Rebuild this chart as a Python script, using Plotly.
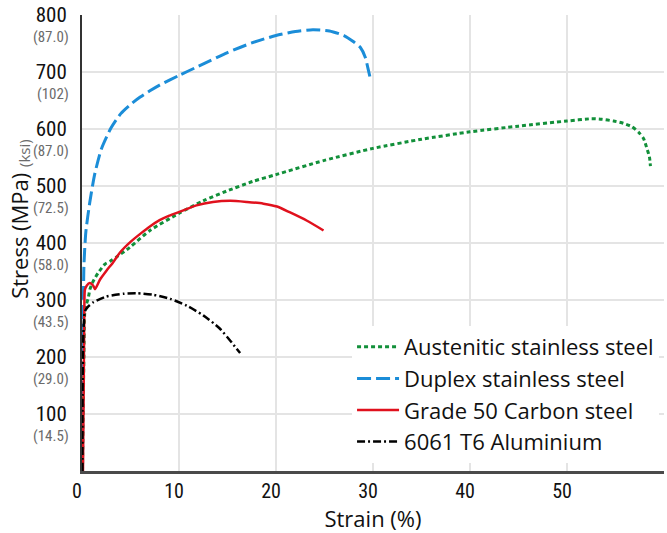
import plotly.graph_objects as go

# Stress-strain curves (strain in %, stress in MPa)
aus_strain = [0.05, 0.25, 0.3, 0.48, 0.65, 0.82, 1.16, 1.68, 2.37, 2.9, 3.6, 4.9, 7, 10.1, 12.5, 14.9,
              17.6, 20, 25, 30, 35, 40, 45, 50, 52.5, 53.6, 54.8, 55.8, 56.7, 57.4, 57.9, 58.2, 58.5, 58.6]
aus_stress = [0, 260, 282, 294, 304, 319, 333, 348, 363, 368, 376, 392, 422, 453, 474, 491,
              508, 520, 545, 566, 582, 595, 605, 614, 618, 617, 614, 610, 604, 594, 583, 568, 551, 535]

dup_strain = [0.05, 0.2, 0.4, 0.8, 1.3, 2, 3, 4, 5, 6, 7, 8, 10, 12, 15, 17.5, 20, 22, 23.8,
              25.5, 27, 28, 28.7, 29.2, 29.5, 29.8]
dup_stress = [0, 360, 420, 471, 520, 565, 602, 627, 643, 656, 667, 677, 694, 710, 734, 751, 764, 771, 774,
              772, 764, 753, 743, 726, 705, 683]

cs_strain = [0.1, 0.25, 0.3, 0.48, 0.8, 1.16, 1.34, 1.86, 2.5, 3.2, 3.9, 5, 6, 7, 8, 9, 10.1, 11.8,
             13.5, 15.3, 17, 18.7, 20.1, 21.4, 23.2, 24.9]
cs_stress = [0, 300, 318, 325, 330, 325, 319, 336, 351, 366, 383, 402, 416, 429, 440, 448, 455, 466,
             472, 474, 472, 469, 464, 454, 439, 422]

al_strain = [0.05, 0.3, 0.6, 1.16, 2.5, 4.3, 5.6, 7.4, 9.1, 10.8, 12.5, 14.2, 16.3]
al_stress = [0, 280, 288, 296, 306, 311, 312, 309, 302, 290, 273, 250, 207]

# Axis ticks: MPa values with their ksi labels
mpa_ticks = [100, 200, 300, 400, 500, 600, 700, 800]
ksi_labels = ["(14.5)", "(29.0)", "(43.5)", "(58.0)", "(72.5)", "(87.0)", "(102)", "(87.0)"]
strain_ticks = [0, 10, 20, 30, 40, 50, 60]

NARROW = "Liberation Sans Narrow, Roboto Condensed, Arial Narrow, sans-serif"
TEXT = "Open Sans, Noto Sans, sans-serif"

fig = go.Figure()
series = [
    ("Austenitic stainless steel", aus_strain, aus_stress, "#12903a", "4px,3px", 3),
    ("Duplex stainless steel", dup_strain, dup_stress, "#1b8dd8", "14px,5px", 3),
    ("Grade 50 Carbon steel", cs_strain, cs_stress, "#e0111d", "solid", 2.5),
    ("6061 T6 Aluminium", al_strain, al_stress, "#000000", "8px,3px,2px,3px", 2.5),
]
for name, xs, ys, color, dash, w in series:
    fig.add_trace(go.Scatter(
        x=xs, y=ys, mode="lines", name=name, legendgroup=name,
        line=dict(color=color, dash=dash, width=w, shape="spline", smoothing=0.6),
    ))

annotations = []
for v, k in zip(mpa_ticks, ksi_labels):
    annotations.append(dict(
        x=0, xref="paper", xanchor="right", xshift=-11,
        y=v, yref="y", yanchor="middle", yshift=-22,
        text=k, showarrow=False,
        font=dict(family=NARROW, size=15, color="#6b6b6b"),
    ))
annotations.append(dict(
    x=-0.108, xref="paper", y=0.516, yref="paper", textangle=-90,
    text="Stress (MPa)", showarrow=False, xanchor="center", yanchor="middle",
    font=dict(family=TEXT, size=22, color="#111111"),
))
annotations.append(dict(
    x=-0.100, xref="paper", y=0.697, yref="paper", textangle=-90,
    text="(ksi)", showarrow=False, xanchor="center", yanchor="middle",
    font=dict(family=TEXT, size=15, color="#6b6b6b"),
))

fig.update_layout(
    width=667, height=533,
    margin=dict(l=82, r=3, t=12, b=56),
    paper_bgcolor="white", plot_bgcolor="white",
    showlegend=True,
    legend=dict(
        x=0.464, xanchor="left", y=0.318, yanchor="top",
        bgcolor="white", borderwidth=0,
        font=dict(family=TEXT, size=22, color="#111111"),
        tracegroupgap=0, itemwidth=42,
    ),
    annotations=annotations,
    xaxis=dict(
        range=[0, 60], tickvals=strain_ticks, ticktext=[str(t) for t in strain_ticks],
        showgrid=True, gridcolor="#e4e4e4", gridwidth=1.5,
        showline=True, linecolor="#4a4a4a", linewidth=2.5,
        zeroline=False, ticks="", ticklabelshift=-5,
        tickfont=dict(family=NARROW, size=20, color="#111111"),
        title=dict(text="Strain (%)", font=dict(family=TEXT, size=22, color="#111111"), standoff=12),
    ),
    yaxis=dict(
        range=[0, 800], tickvals=mpa_ticks, ticktext=[str(t) for t in mpa_ticks],
        showgrid=True, gridcolor="#e4e4e4", gridwidth=1.5,
        showline=True, linecolor="#333333", linewidth=2,
        zeroline=False, ticks="", ticklabelstandoff=9,
        tickfont=dict(family=NARROW, size=21, color="#111111"),
    ),
)

fig.write_html("out.html")
